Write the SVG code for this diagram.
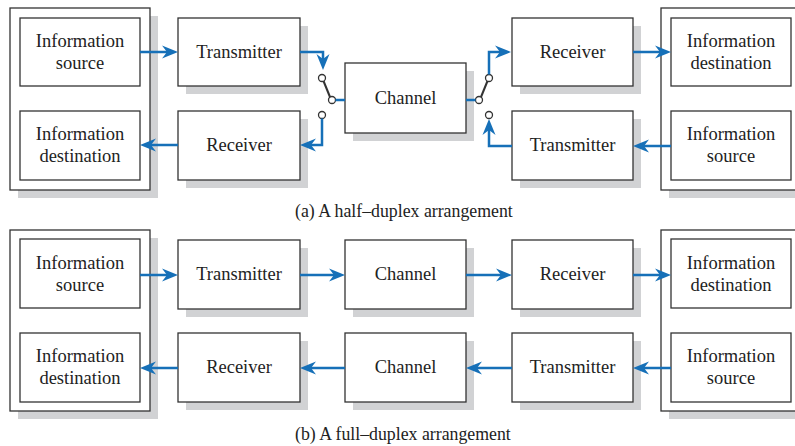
<svg xmlns="http://www.w3.org/2000/svg" width="795" height="446" viewBox="0 0 795 446">
<style>
.box{fill:#fff;stroke:#333;stroke-width:1.3}
.sh{fill:#d1d2d4}
.t{font-family:"Liberation Serif","Times New Roman",serif;font-size:18.5px;fill:#222;text-anchor:middle}
.cap{font-family:"Liberation Serif","Times New Roman",serif;font-size:17.8px;fill:#222}
.c{fill:none;stroke:#1670b8;stroke-width:2.5}
.a{marker-end:url(#ah)}
.sw{fill:#fff;stroke:#333;stroke-width:1.3}
.lev{stroke:#333;stroke-width:2}
</style>
<defs>
<marker id="ah" viewBox="-16 -7 16 14" refX="-5" refY="0" markerWidth="16" markerHeight="14" markerUnits="userSpaceOnUse" orient="auto">
<path d="M0,0 L-16,-6.5 L-11,0 L-16,6.5 Z" fill="#1670b8"/>
</marker>
</defs>
<rect width="795" height="446" fill="#fff"/>

<!-- (a) half-duplex -->
<g id="a-left-station">
<rect class="sh" x="18" y="16" width="140" height="182"/>
<rect class="box" x="10" y="8" width="140" height="182"/>
</g>
<g id="a-info-source-l"><rect class="box" x="20" y="18" width="120" height="68"/><text class="t" x="80" y="47">Information</text><text class="t" x="80" y="69">source</text></g>
<g id="a-info-dest-l"><rect class="box" x="20" y="111" width="120" height="69"/><text class="t" x="80" y="140">Information</text><text class="t" x="80" y="162">destination</text></g>
<g id="a-transmitter-l"><rect class="sh" x="186" y="26" width="122" height="68"/><rect class="box" x="178" y="18" width="122" height="68"/><text class="t" x="239" y="58">Transmitter</text></g>
<g id="a-receiver-l"><rect class="sh" x="186" y="119" width="122" height="69"/><rect class="box" x="178" y="111" width="122" height="69"/><text class="t" x="239" y="151">Receiver</text></g>
<g id="a-channel"><rect class="sh" x="353" y="71" width="121" height="70"/><rect class="box" x="345" y="63" width="121" height="70"/><text class="t" x="405.5" y="104">Channel</text></g>
<g id="a-receiver-r"><rect class="sh" x="520" y="26" width="121" height="68"/><rect class="box" x="512" y="18" width="121" height="68"/><text class="t" x="572.5" y="58">Receiver</text></g>
<g id="a-transmitter-r"><rect class="sh" x="520" y="119" width="121" height="69"/><rect class="box" x="512" y="111" width="121" height="69"/><text class="t" x="572.5" y="151">Transmitter</text></g>
<g id="a-right-station">
<rect class="sh" x="669" y="16" width="140" height="182"/>
<rect class="box" x="661" y="8" width="140" height="182"/>
</g>
<g id="a-info-dest-r"><rect class="box" x="671" y="18" width="120" height="68"/><text class="t" x="731" y="47">Information</text><text class="t" x="731" y="69">destination</text></g>
<g id="a-info-source-r"><rect class="box" x="671" y="111" width="120" height="69"/><text class="t" x="731" y="140">Information</text><text class="t" x="731" y="162">source</text></g>

<g id="a-switch-l">
<line class="lev" x1="323.5" y1="81" x2="330" y2="97"/>
<circle class="sw" cx="322" cy="78" r="3.5"/>
<circle class="sw" cx="332" cy="100" r="3.5"/>
<circle class="sw" cx="322" cy="115" r="3.5"/>
</g>
<g id="a-switch-r">
<line class="lev" x1="487.5" y1="81" x2="481" y2="97"/>
<circle class="sw" cx="489" cy="78" r="3.5"/>
<circle class="sw" cx="479" cy="100" r="3.5"/>
<circle class="sw" cx="489" cy="115" r="3.5"/>
</g>

<text class="cap" x="295" y="217">(a) A half–duplex arrangement</text>

<!-- (b) full-duplex -->
<g id="b-left-station">
<rect class="sh" x="18" y="238" width="140" height="181"/>
<rect class="box" x="10" y="230" width="140" height="181"/>
</g>
<g id="b-info-source-l"><rect class="box" x="20" y="239" width="120" height="69"/><text class="t" x="80" y="269">Information</text><text class="t" x="80" y="291">source</text></g>
<g id="b-info-dest-l"><rect class="box" x="20" y="333" width="120" height="69"/><text class="t" x="80" y="362">Information</text><text class="t" x="80" y="384">destination</text></g>
<g id="b-transmitter-l"><rect class="sh" x="186" y="248" width="122" height="69"/><rect class="box" x="178" y="240" width="122" height="69"/><text class="t" x="239" y="280">Transmitter</text></g>
<g id="b-receiver-l"><rect class="sh" x="186" y="341" width="122" height="69"/><rect class="box" x="178" y="333" width="122" height="69"/><text class="t" x="239" y="373">Receiver</text></g>
<g id="b-channel-top"><rect class="sh" x="353" y="248" width="121" height="69"/><rect class="box" x="345" y="240" width="121" height="69"/><text class="t" x="405.5" y="280">Channel</text></g>
<g id="b-channel-bottom"><rect class="sh" x="353" y="341" width="121" height="69"/><rect class="box" x="345" y="333" width="121" height="69"/><text class="t" x="405.5" y="373">Channel</text></g>
<g id="b-receiver-r"><rect class="sh" x="520" y="248" width="121" height="69"/><rect class="box" x="512" y="240" width="121" height="69"/><text class="t" x="572.5" y="280">Receiver</text></g>
<g id="b-transmitter-r"><rect class="sh" x="520" y="341" width="121" height="69"/><rect class="box" x="512" y="333" width="121" height="69"/><text class="t" x="572.5" y="373">Transmitter</text></g>
<g id="b-right-station">
<rect class="sh" x="669" y="238" width="140" height="181"/>
<rect class="box" x="661" y="230" width="140" height="181"/>
</g>
<g id="b-info-dest-r"><rect class="box" x="671" y="239" width="120" height="69"/><text class="t" x="731" y="269">Information</text><text class="t" x="731" y="291">destination</text></g>
<g id="b-info-source-r"><rect class="box" x="671" y="333" width="120" height="69"/><text class="t" x="731" y="362">Information</text><text class="t" x="731" y="384">source</text></g>

<text class="cap" x="295" y="440">(b) A full–duplex arrangement</text>

<g id="connectors">
<line class="c a" x1="140" y1="52" x2="173" y2="52"/>
<line class="c a" x1="178" y1="145" x2="145" y2="145"/>
<polyline class="c a" points="300,52 323,52 323,65"/>
<polyline class="c a" points="322,118.5 322,145 305,145"/>
<line class="c" x1="335.5" y1="100" x2="345" y2="100"/>
<line class="c" x1="466" y1="100" x2="475.5" y2="100"/>
<polyline class="c a" points="489,74.5 489,52 506,52"/>
<polyline class="c a" points="512,146 489,146 489,124"/>
<line class="c a" x1="633" y1="52" x2="666" y2="52"/>
<line class="c a" x1="671" y1="146" x2="638" y2="146"/>

<line class="c a" x1="140" y1="275" x2="173" y2="275"/>
<line class="c a" x1="300" y1="275" x2="340" y2="275"/>
<line class="c a" x1="466" y1="275" x2="507" y2="275"/>
<line class="c a" x1="633" y1="275" x2="666" y2="275"/>
<line class="c a" x1="671" y1="368" x2="638" y2="368"/>
<line class="c a" x1="512" y1="368" x2="471" y2="368"/>
<line class="c a" x1="345" y1="368" x2="305" y2="368"/>
<line class="c a" x1="178" y1="368" x2="145" y2="368"/>
</g>
</svg>
